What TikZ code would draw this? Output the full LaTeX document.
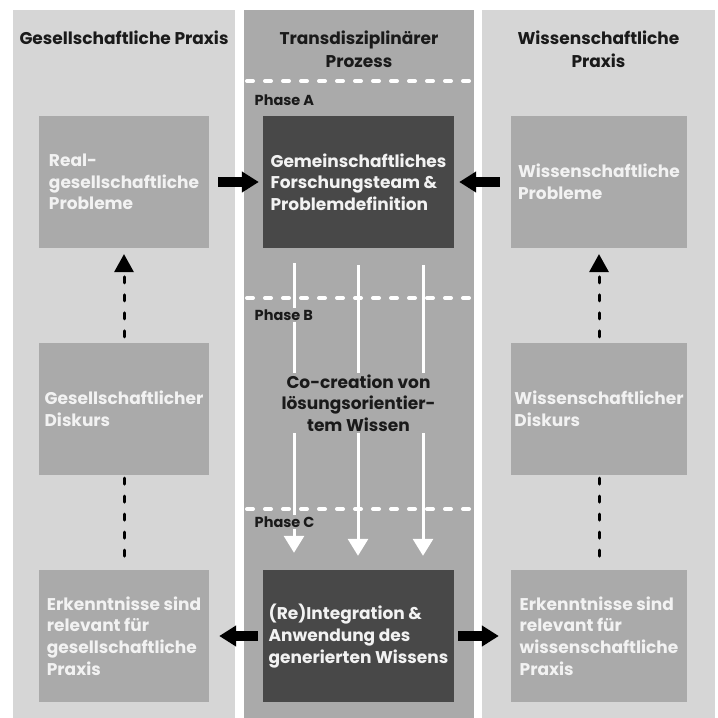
\documentclass[tikz,border=0pt]{standalone}
\usepackage{fontspec}
\setmainfont{Poppins}
\usetikzlibrary{arrows.meta}
\definecolor{sidebg}{RGB}{214,214,214}
\definecolor{midbg}{RGB}{170,170,170}
\definecolor{sidebox}{RGB}{170,170,170}
\definecolor{darkbox}{RGB}{72,72,72}
\definecolor{boxtext}{RGB}{242,242,242}
\definecolor{titletext}{RGB}{26,26,26}
\tikzset{
  boxtxt/.style={font=\fontsize{17}{21.7}\selectfont\bfseries, text=boxtext, align=left, inner sep=0pt, minimum height=132pt},
  sidebx/.style={boxtxt, fill=sidebox, minimum width=170pt},
  sidebxr/.style={boxtxt, fill=sidebox, minimum width=176pt},
  darkbx/.style={boxtxt, fill=darkbox, minimum width=191pt},
  titletxt/.style={font=\fontsize{17}{23}\selectfont\bfseries, text=titletext, align=center, inner sep=0pt},
  phaselbl/.style={font=\fontsize{14.5}{16}\selectfont\bfseries, text=titletext, fill=midbg, inner sep=1.5pt, anchor=west},
  blockarrow/.style={line width=10pt, -{Triangle[width=20pt,length=17pt]}, black},
  dasharrow/.style={line width=3pt, line cap=round, dash pattern=on 6pt off 12pt, black},
  whitearrow/.style={line width=3pt, white, -{Triangle[width=20pt,length=17pt]}},
  phaseline/.style={line width=4pt, white, line cap=round, dash pattern=on 6pt off 12pt}
}
\begin{document}
\begin{tikzpicture}[x=1pt,y=-1pt]
\useasboundingbox (0,0) rectangle (718,718);
\fill[white] (0,0) rectangle (718,718);
% columns
\fill[sidebg] (13,10) rectangle (235,718);
\fill[midbg] (244,10) rectangle (474,718);
\fill[sidebg] (482,10) rectangle (715,718);
% titles
\node[titletxt] (t1) at (124,38) {Gesellschaftliche Praxis};
\node[titletxt] (t2) at (359,49) {Transdisziplinärer\\Prozess};
\node[titletxt] (t3) at (598.5,49) {Wissenschaftliche\\Praxis};
% phase lines
\coordinate (pa1) at (247,81);
\coordinate (pa2) at (472,81);
\coordinate (pb1) at (247,298);
\coordinate (pb2) at (472,298);
\coordinate (pc1) at (247,509);
\coordinate (pc2) at (472,509);
\draw[phaseline] (pa1) -- (pa2);
\draw[phaseline] (pb1) -- (pb2);
\draw[phaseline] (pc1) -- (pc2);
% boxes
\node[sidebx] (tl) at (124,182) {Real-\\gesellschaftliche\\Probleme};
\node[darkbx] (tm) at (358.5,182) {Gemeinschaftliches\\Forschungsteam \&\\Problemdefinition};
\node[sidebxr] (tr) at (599,182) {Wissenschaftliche\\Probleme};
\node[sidebx] (ml) at (124,409) {Gesellschaftlicher\\Diskurs};
\node[sidebxr] (mr) at (599,409) {Wissenschaftlicher\\Diskurs};
\node[sidebx] (bl) at (124,636) {Erkenntnisse sind\\relevant für\\gesellschaftliche\\Praxis};
\node[darkbx] (bm) at (358.5,636) {(Re)Integration \&\\Anwendung des\\generierten Wissens};
\node[sidebxr] (br) at (599,636) {Erkenntnisse sind\\relevant für\\wissenschaftliche\\Praxis};
% white arrows
\draw[whitearrow] ([xshift=-64.5pt,yshift=-15pt]tm.south) -- ([xshift=-64.5pt,yshift=17pt]bm.north);
\draw[whitearrow] ([xshift=-0.5pt,yshift=-17pt]tm.south) -- ([xshift=-0.5pt,yshift=14pt]bm.north);
\draw[whitearrow] ([xshift=64.5pt,yshift=-17pt]tm.south) -- ([xshift=64.5pt,yshift=14pt]bm.north);
% phase labels
\node[phaselbl] (pha) at (253,100) {Phase A};
\node[phaselbl] (phb) at (253,315) {Phase B};
\node[phaselbl] (phc) at (253,522) {Phase C};
% co-creation
\node[font=\fontsize{17}{21.7}\selectfont\bfseries, text=titletext, fill=midbg, align=center, inner xsep=4pt, inner ysep=1pt] (cc) at (358.5,403) {Co-creation von\\lösungsorientier-\\tem Wissen};
% block arrows
\draw[blockarrow] ([xshift=9pt]tl.east) -- ([xshift=-4pt]tm.west);
\draw[blockarrow] ([xshift=-11pt]tr.west) -- ([xshift=5pt]tm.east);
\draw[blockarrow] ([xshift=-5pt]bm.west) -- ([xshift=10pt]bl.east);
\draw[blockarrow] ([xshift=4pt]bm.east) -- ([xshift=-12pt]br.west);
% dashed arrows
\draw[dasharrow] ([yshift=6pt]ml.north) -- ([yshift=-24pt]tl.south);
\fill[black] ([yshift=-6pt]tl.south) -- ++(-10,18) -- ++(20,0) -- cycle;
\draw[dasharrow] ([yshift=6pt]mr.north) -- ([yshift=-24pt]tr.south);
\fill[black] ([yshift=-6pt]tr.south) -- ++(-10,18) -- ++(20,0) -- cycle;
\draw[dasharrow] ([yshift=-3pt]ml.south) -- ([yshift=2pt]bl.north);
\draw[dasharrow] ([yshift=-3pt]mr.south) -- ([yshift=2pt]br.north);
\end{tikzpicture}
\end{document}
